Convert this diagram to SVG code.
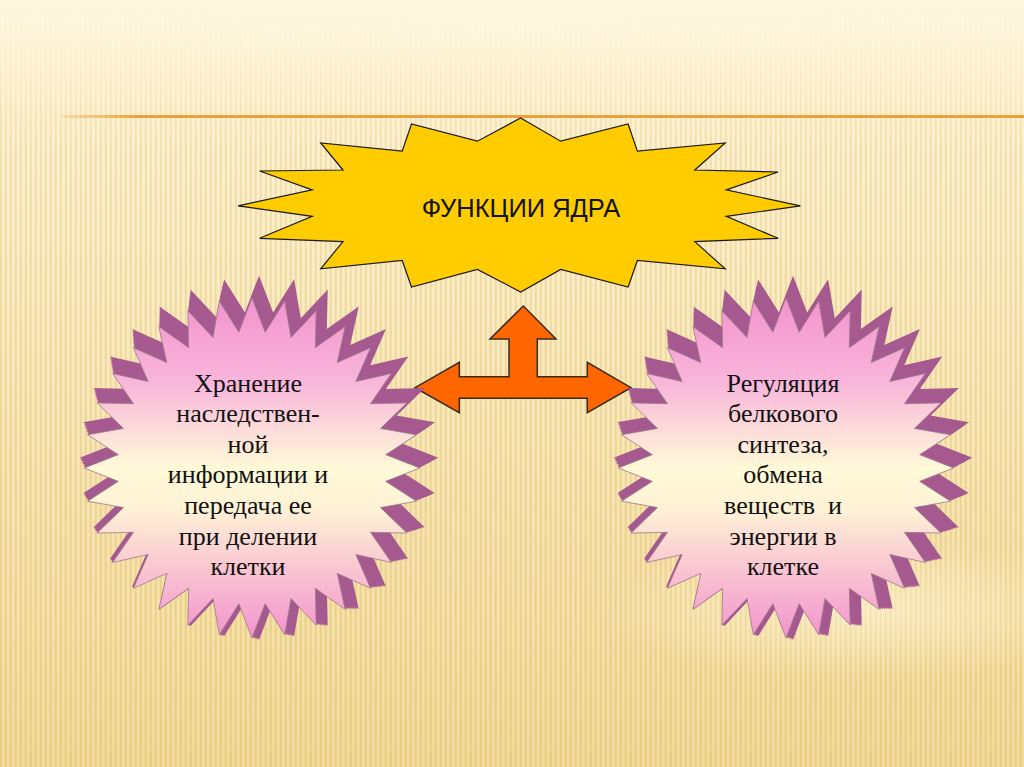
<svg xmlns="http://www.w3.org/2000/svg" xmlns:xlink="http://www.w3.org/1999/xlink" width="1024" height="767" viewBox="0 0 1024 767">
<style>
.serif{font-family:"Liberation Serif","Times New Roman",serif;font-size:26px;fill:#111;text-anchor:middle}
.sans{font-family:"Liberation Sans",Arial,sans-serif;font-size:25.5px;fill:#111;text-anchor:middle}
.ext{fill:#A65A90}
.front{fill:url(#pinkGrad);stroke:#9C7C8A;stroke-width:0.8}
</style>
<defs>
<linearGradient id="bg" x1="0" y1="0" x2="0" y2="1">
<stop offset="0" stop-color="#FEF7E0"/>
<stop offset="0.15" stop-color="#FCEFCB"/>
<stop offset="0.55" stop-color="#F7E3AE"/>
<stop offset="1" stop-color="#F1D690"/>
</linearGradient>
<linearGradient id="fadeTop" x1="0" y1="0" x2="0" y2="1">
<stop offset="0" stop-color="#fff" stop-opacity="0"/>
<stop offset="0.08" stop-color="#fff" stop-opacity="0.2"/>
<stop offset="0.2" stop-color="#fff" stop-opacity="1"/>
<stop offset="1" stop-color="#fff" stop-opacity="1"/>
</linearGradient>
<mask id="stripeMask"><rect width="1024" height="767" fill="url(#fadeTop)"/></mask>
<pattern id="stripes" width="5" height="20" patternUnits="userSpaceOnUse">
<rect x="0" y="0" width="1.6" height="20" fill="#D4AE58" fill-opacity="0.28"/>
<rect x="2.5" y="0" width="1" height="20" fill="#FFFFFF" fill-opacity="0.28"/>
</pattern>
<radialGradient id="glow" cx="0.5" cy="0.5" r="0.5">
<stop offset="0" stop-color="#FFF8E0" stop-opacity="0.55"/>
<stop offset="1" stop-color="#FFF8E0" stop-opacity="0"/>
</radialGradient>
<linearGradient id="lineGrad" x1="62" y1="0" x2="1024" y2="0" gradientUnits="userSpaceOnUse">
<stop offset="0" stop-color="#EBA23C" stop-opacity="0.2"/>
<stop offset="0.08" stop-color="#EBA23C" stop-opacity="1"/>
<stop offset="1" stop-color="#EBA23C" stop-opacity="1"/>
</linearGradient>
<linearGradient id="pinkGrad" x1="0" y1="0" x2="0" y2="1">
<stop offset="0" stop-color="#F393CD"/>
<stop offset="0.25" stop-color="#F9B6DB"/>
<stop offset="0.5" stop-color="#FFFAD8"/>
<stop offset="0.62" stop-color="#FFF2D6"/>
<stop offset="1" stop-color="#F393CD"/>
</linearGradient>
<polygon id="seal" points="166,0 132.36,13.04 162.81,32.39 127.27,38.61 153.36,63.53 117.30,62.70 138.02,92.22 102.81,84.37 117.38,117.38 84.37,102.81 92.22,138.02 62.70,117.30 63.53,153.36 38.61,127.27 32.39,162.81 13.04,132.36 0,166 -13.04,132.36 -32.39,162.81 -38.61,127.27 -63.53,153.36 -62.70,117.30 -92.22,138.02 -84.37,102.81 -117.38,117.38 -102.81,84.37 -138.02,92.22 -117.30,62.70 -153.36,63.53 -127.27,38.61 -162.81,32.39 -132.36,13.04 -166,0 -132.36,-13.04 -162.81,-32.39 -127.27,-38.61 -153.36,-63.53 -117.30,-62.70 -138.02,-92.22 -102.81,-84.37 -117.38,-117.38 -84.37,-102.81 -92.22,-138.02 -62.70,-117.30 -63.53,-153.36 -38.61,-127.27 -32.39,-162.81 -13.04,-132.36 0,-166 13.04,-132.36 32.39,-162.81 38.61,-127.27 63.53,-153.36 62.70,-117.30 92.22,-138.02 84.37,-102.81 117.38,-117.38 102.81,-84.37 138.02,-92.22 117.30,-62.70 153.36,-63.53 127.27,-38.61 162.81,-32.39 132.36,-13.04"/>
<g id="extrusion">
<use href="#seal" class="ext" transform="translate(7,-10) scale(1.07)"/>
<use href="#seal" class="ext" transform="translate(6,-8.5) scale(1.06)"/>
<use href="#seal" class="ext" transform="translate(5,-7) scale(1.05)"/>
<use href="#seal" class="ext" transform="translate(4,-5.7) scale(1.04)"/>
<use href="#seal" class="ext" transform="translate(3,-4.3) scale(1.03)"/>
<use href="#seal" class="ext" transform="translate(2,-2.9) scale(1.02)"/>
<use href="#seal" class="ext" transform="translate(1,-1.4) scale(1.01)"/>
</g>
</defs>

<g id="background">
<rect width="1024" height="767" fill="url(#bg)"/>
<rect width="1024" height="767" fill="url(#stripes)" mask="url(#stripeMask)"/>
<ellipse cx="860" cy="610" rx="260" ry="70" fill="url(#glow)"/>
<ellipse cx="512" cy="25" rx="600" ry="40" fill="url(#glow)"/>
<rect x="62" y="115" width="962" height="3" fill="url(#lineGrad)"/>
</g>

<g id="connectors">
<polygon points="523.3,306 556,339 537.3,339 537.3,376.7 587.3,376.7 587.3,362.3 631,387.7 587.3,412.7 587.3,398.3 459.3,398.3 459.3,412.7 415,387.7 459.3,362.3 459.3,376.7 509,376.7 509,339 490,339" fill="#FF6600" stroke="#3A2A20" stroke-width="1.5" stroke-linejoin="miter"/>
</g>

<g id="node-top">
<polygon points="520.7,118 560.7,141.2 628.1,124 637.4,151.1 725.2,142.9 694.8,170 778.1,172 726.3,189.9 800.4,205.8 726.3,216.4 778.1,238.3 694.8,241.6 725.2,268.8 637.4,260.5 628.1,287 560.7,269.5 520.7,292 477.4,269.5 411.5,287 402.2,260.5 320.7,268.8 343,241.6 259.6,238.3 312.2,216.4 238.1,205.8 312.2,189.9 259.6,171 343,170 320.7,142.9 402.2,151.1 411.5,124 477.4,141.2" fill="#FFCC00" stroke="#1A1A1A" stroke-width="1.2"/>
<text class="sans" x="521" y="217">ФУНКЦИИ ЯДРА</text>
</g>

<g id="node-left">
<g transform="translate(252,468) scale(1.01,1.025)">
<use href="#extrusion"/>
<use href="#seal" class="front"/>
</g>
<text class="serif" x="248" y="391.5">Хранение</text>
<text class="serif" x="248" y="422">наследствен-</text>
<text class="serif" x="248" y="452.7">ной</text>
<text class="serif" x="248" y="483.3">информации и</text>
<text class="serif" x="248" y="514">передача ее</text>
<text class="serif" x="248" y="544.5">при делении</text>
<text class="serif" x="248" y="575">клетки</text>
</g>

<g id="node-right">
<g transform="translate(786,468) scale(1.01,1.025)">
<use href="#extrusion"/>
<use href="#seal" class="front"/>
</g>
<text class="serif" x="783" y="391.5">Регуляция</text>
<text class="serif" x="783" y="422">белкового</text>
<text class="serif" x="783" y="452.7">синтеза,</text>
<text class="serif" x="783" y="483.3">обмена</text>
<text class="serif" x="783" y="514" xml:space="preserve">веществ  и</text>
<text class="serif" x="783" y="544.5">энергии в</text>
<text class="serif" x="783" y="575">клетке</text>
</g>
</svg>
